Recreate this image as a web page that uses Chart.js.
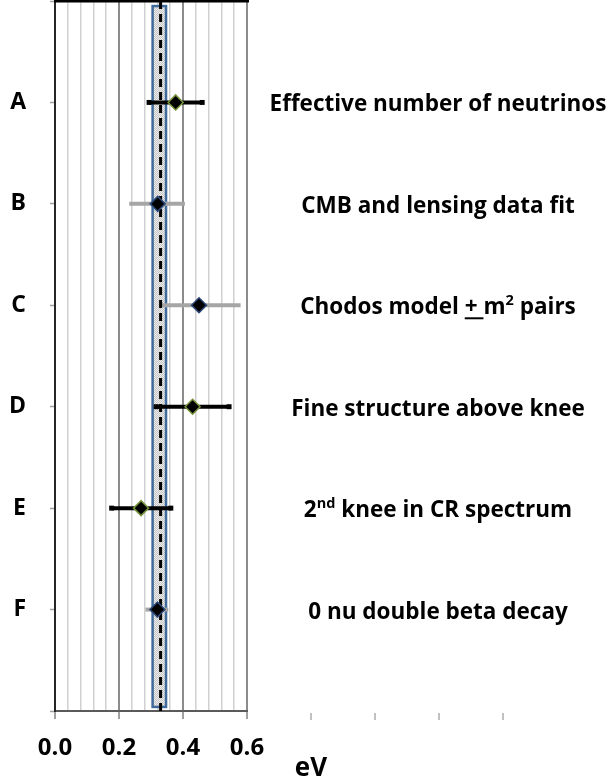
<!DOCTYPE html>
<html>
<head>
<meta charset="utf-8">
<script src="https://cdn.jsdelivr.net/npm/chart.js@4"></script>
<style>
  html, body { margin: 0; padding: 0; background: #fff; }
  canvas { display: block; }
</style>
</head>
<body>
<canvas id="massChart" width="614" height="780"></canvas>
<script>
// --- データ ---
const categories = ['A', 'B', 'C', 'D', 'E', 'F'];
const centralValues = [0.377, 0.321, 0.45, 0.43, 0.269, 0.32];
const errorLow = [0.294, 0.232, 0.33, 0.316, 0.177, 0.283];
const errorHigh = [0.46, 0.406, 0.58, 0.544, 0.362, 0.354];
const errorKind = ['black', 'grey', 'grey', 'black', 'black', 'grey'];
const markerKind = ['green', 'blue', 'blue', 'green', 'green', 'blue'];
const xTickLabels = ['0.0', '0.2', '0.4', '0.6'];
const extraTicks = [0.8, 1.0, 1.2, 1.4];
const bandRange = [0.305, 0.347];
const bandSpan = [0.05, 6.96];
const bestFit = 0.33;
const axisTitle = 'eV';

// 右側のラベル (n: 普通, s: 上付き, u: 下線)
const rightLabels = [
    [['Effective number of neutrinos', 'n']],
    [['CMB and lensing data fit', 'n']],
    [['Chodos model ', 'n'], ['+ ', 'u'], ['m', 'n'], ['2', 's'], [' pairs', 'n']],
    [['Fine structure above knee', 'n']],
    [['2', 'n'], ['nd', 's'], [' knee in CR spectrum', 'n']],
    [['0 nu double beta decay', 'n']]
];

// --- 色 ---
const barColors = { black: '#000000', grey: '#a6a6a6' };
const edgeColors = { green: '#77933c', blue: '#2e4a7a' };
const FONT = '"Open Sans", "DejaVu Sans", sans-serif';

function isMajor(v) {
    return Math.abs(v / 0.2 - Math.round(v / 0.2)) < 1e-6;
}

// 帯の塗りつぶし用パターン
function makePattern() {
    const p = document.createElement('canvas');
    p.width = 2; p.height = 2;
    const pc = p.getContext('2d');
    pc.fillStyle = '#ececec';
    pc.fillRect(0, 0, 2, 2);
    pc.fillStyle = '#c4c4c4';
    pc.fillRect(0, 0, 1, 1);
    pc.fillRect(1, 1, 1, 1);
    return document.getElementById('massChart').getContext('2d').createPattern(p, 'repeat');
}

// --- データセットを組み立てる ---
const datasets = [];

// 菱形マーカー
datasets.push({
    data: categories.map((c, i) => ({ x: centralValues[i], y: i + 1 })),
    pointStyle: 'rectRot',
    pointRadius: 7.5,
    pointBackgroundColor: '#000000',
    pointBorderColor: markerKind.map(k => edgeColors[k]),
    pointBorderWidth: 1.5,
    order: 0
});

// 中央の破線
datasets.push({
    data: [{ x: bestFit, y: 0 }, { x: bestFit, y: 7 }],
    showLine: true,
    borderColor: '#000000',
    borderWidth: 3,
    borderDash: [8, 5],
    pointRadius: 0,
    order: 1
});

// エラーバー
categories.forEach((c, i) => {
    const col = barColors[errorKind[i]];
    datasets.push({
        data: [{ x: errorLow[i], y: i + 1 }, { x: errorHigh[i], y: i + 1 }],
        showLine: true,
        borderColor: col,
        borderWidth: 4,
        pointStyle: 'rect',
        pointRadius: errorKind[i] === 'black' ? 3.5 : 0,
        pointBackgroundColor: col,
        pointBorderWidth: 0,
        order: 2
    });
});

// --- 帯・枠線・右ラベルを描くプラグイン ---
const extrasPlugin = {
    id: 'extras',
    beforeDatasetsDraw(chart) {
        const ctx = chart.ctx;
        const x = chart.scales.x, y = chart.scales.y;
        const x0 = x.getPixelForValue(bandRange[0]);
        const x1 = x.getPixelForValue(bandRange[1]);
        const y0 = y.getPixelForValue(bandSpan[0]);
        const y1 = y.getPixelForValue(bandSpan[1]);
        ctx.save();
        ctx.fillStyle = makePattern();
        ctx.fillRect(x0, y0, x1 - x0, y1 - y0);
        ctx.strokeStyle = '#3f6b9c';
        ctx.lineWidth = 2.5;
        ctx.strokeRect(x0, y0, x1 - x0, y1 - y0);
        ctx.restore();
    },
    afterDraw(chart) {
        const ctx = chart.ctx;
        const area = chart.chartArea;
        const x = chart.scales.x, y = chart.scales.y;
        ctx.save();

        // 上の黒い枠線
        ctx.strokeStyle = '#000000';
        ctx.lineWidth = 3;
        ctx.beginPath();
        ctx.moveTo(area.left - 1, area.top);
        ctx.lineTo(area.right + 2, area.top);
        ctx.stroke();

        // 軸の外側の目盛り
        ctx.strokeStyle = '#c0c0c0';
        ctx.lineWidth = 2;
        extraTicks.forEach(v => {
            const px = Math.round(x.getPixelForValue(v));
            ctx.beginPath();
            ctx.moveTo(px, area.bottom + 2);
            ctx.lineTo(px, area.bottom + 9);
            ctx.stroke();
        });

        // 軸タイトル
        ctx.fillStyle = '#000000';
        ctx.font = 'bold 26px ' + FONT;
        ctx.textAlign = 'center';
        ctx.textBaseline = 'middle';
        ctx.fillText(axisTitle, x.getPixelForValue(extraTicks[0]), 769);

        // 右側のラベル
        const mainFont = 'bold 22.5px ' + FONT;
        const supFont = 'bold 14.5px ' + FONT;
        ctx.textAlign = 'left';
        ctx.textBaseline = 'alphabetic';
        rightLabels.forEach((parts, i) => {
            let total = 0;
            parts.forEach(p => {
                ctx.font = p[1] === 's' ? supFont : mainFont;
                total += ctx.measureText(p[0]).width;
            });
            let px = 438 - total / 2;
            const base = y.getPixelForValue(i + 1) + 9;
            parts.forEach(p => {
                ctx.font = p[1] === 's' ? supFont : mainFont;
                const w = ctx.measureText(p[0]).width;
                const py = p[1] === 's' ? base - 9 : base;
                ctx.fillText(p[0], px, py);
                if (p[1] === 'u') {
                    ctx.lineWidth = 2;
                    ctx.strokeStyle = '#000000';
                    ctx.beginPath();
                    ctx.moveTo(px, base + 4);
                    ctx.lineTo(px + w, base + 4);
                    ctx.stroke();
                }
                px += w;
            });
        });
        ctx.restore();
    }
};

// --- グラフ作成 ---
const chartCtx = document.getElementById('massChart').getContext('2d');
new Chart(chartCtx, {
    type: 'scatter',
    data: { datasets: datasets },
    options: {
        responsive: false,
        animation: false,
        devicePixelRatio: 1,
        layout: { autoPadding: false, padding: { left: 0, top: 1, right: 367, bottom: 0 } },
        plugins: { legend: { display: false }, tooltip: { enabled: false } },
        scales: {
            x: {
                type: 'linear',
                min: 0,
                max: 0.6,
                afterFit: s => {
                    s.height = 69;
                    s.paddingLeft = 0;
                    s.paddingRight = 0;
                },
                afterBuildTicks: s => {
                    // 0.04 刻みの補助目盛り
                    s.ticks = [];
                    for (let k = 0; k <= 15; k++) s.ticks.push({ value: Math.round(k * 4) / 100 });
                },
                ticks: {
                    autoSkip: false,
                    maxRotation: 0,
                    padding: 15,
                    color: '#000000',
                    font: { family: FONT, size: 24, weight: 'bold' },
                    callback: v => isMajor(v) ? xTickLabels[Math.round(v / 0.2)] : ''
                },
                grid: {
                    color: c => isMajor(c.tick.value) ? '#8c8c8c' : '#d0d0d0',
                    lineWidth: c => isMajor(c.tick.value) ? 2 : 1.5,
                    tickColor: c => isMajor(c.tick.value) ? '#a0a0a0' : 'rgba(0,0,0,0)',
                    tickLength: 8,
                    tickWidth: 2
                },
                border: { color: '#5a5a5a', width: 2 }
            },
            y: {
                type: 'linear',
                min: 0,
                max: 7,
                reverse: true,
                afterFit: s => {
                    s.width = 55;
                    s.paddingTop = 0;
                    s.paddingBottom = 0;
                },
                afterBuildTicks: s => {
                    s.ticks = [];
                    for (let k = 0; k <= 7; k++) s.ticks.push({ value: k });
                },
                ticks: {
                    autoSkip: false,
                    padding: 24,
                    color: '#000000',
                    font: { family: FONT, size: 23, weight: 'bold' },
                    callback: v => (v >= 1 && v <= categories.length) ? categories[v - 1] : ''
                },
                grid: {
                    drawOnChartArea: false,
                    tickColor: '#a0a0a0',
                    tickLength: 5,
                    tickWidth: 1.5
                },
                border: { color: '#262626', width: 2 }
            }
        }
    },
    plugins: [extrasPlugin]
});
</script>
</body>
</html>
